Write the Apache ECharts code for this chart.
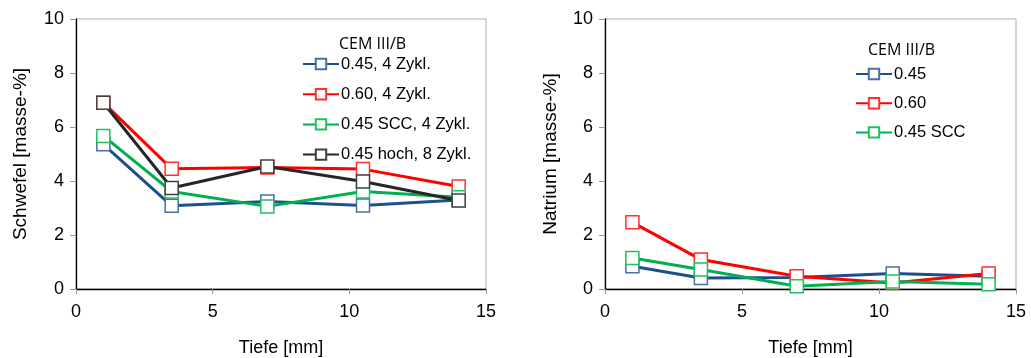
<!DOCTYPE html>
<html><head><meta charset="utf-8">
<script src="https://cdn.jsdelivr.net/npm/echarts@6/dist/echarts.min.js"></script>
<style>html,body{margin:0;padding:0;background:#fff}#c{width:1031px;height:358px}</style>
</head><body><div id="c"></div>
<script>
const depth = [1, 3.5, 7, 10.5, 14];
const xTicks = [0, 5, 10, 15];
const yTicks = [0, 2, 4, 6, 8, 10];

const sNames = ['0.45, 4 Zykl.', '0.60, 4 Zykl.', '0.45 SCC, 4 Zykl.', '0.45 hoch, 8 Zykl.'];
const s045 = [5.36, 3.08, 3.24, 3.09, 3.30];
const s060 = [6.90, 4.45, 4.50, 4.44, 3.80];
const s045scc = [5.67, 3.61, 3.06, 3.61, 3.40];
const s045hoch = [6.90, 3.74, 4.54, 3.98, 3.28];

const nNames = ['0.45', '0.60', '0.45 SCC'];
const n045 = [0.84, 0.41, 0.43, 0.57, 0.47];
const n060 = [2.47, 1.09, 0.47, 0.22, 0.57];
const n045scc = [1.15, 0.72, 0.10, 0.28, 0.18];

const colors = ['#1F4E8C', '#FF0000', '#00B050', '#262626'];
const markerBorders = ['#4A6FA5', '#FF3030', '#20C060', '#404040'];

const font = 'Arial, "Liberation Sans", sans-serif';

function mk(name, vals, ci, gi) {
  return {
    name: name, type: 'line', xAxisIndex: gi, yAxisIndex: gi,
    data: depth.map((d, i) => [d, vals[i]]),
    symbol: 'rect', symbolSize: 13,
    lineStyle: { color: colors[ci], width: 3 },
    itemStyle: { color: '#fff', borderColor: markerBorders[ci], borderWidth: 1.5 },
    color: colors[ci],
    emphasis: { disabled: true },
    z: 2 + ci
  };
}

function xAx(gi) {
  return {
    gridIndex: gi, type: 'value', min: 0, max: 15, interval: 5,
    name: 'Tiefe [mm]', nameLocation: 'middle', nameGap: 50,
    nameTextStyle: { fontFamily: font, fontSize: 18, color: '#000' },
    axisLine: { show: true, onZero: false, lineStyle: { color: '#000', width: 1.3 } },
    axisTick: { show: true, length: 5, lineStyle: { color: '#999' } },
    axisLabel: { fontFamily: font, fontSize: 18, color: '#000', margin: 14 },
    splitLine: { show: false }
  };
}
function yAx(gi, name, gap) {
  return {
    gridIndex: gi, type: 'value', min: 0, max: 10, interval: 2,
    name: name, nameLocation: 'middle', nameGap: gap, nameRotate: 90,
    nameTextStyle: { fontFamily: font, fontSize: 19, color: '#000' },
    axisLine: { show: true, lineStyle: { color: '#000', width: 1.3 } },
    axisTick: { show: true, length: 6, lineStyle: { color: '#999' } },
    axisLabel: { fontFamily: font, fontSize: 18, color: '#000', margin: 12 },
    splitLine: { show: false }
  };
}

const titleFont = { fontFamily: '"Open Sans", "Noto Sans", sans-serif', fontSize: 16, fontWeight: 'normal', color: '#000' };
const legText = { fontFamily: font, fontSize: 16.5, lineHeight: 18, color: '#000', padding: [0, 0, 0, -3] };

const chart = echarts.init(document.getElementById('c'), null, { renderer: 'canvas' });
chart.setOption({
  animation: false,
  backgroundColor: '#fff',
  title: [
    { text: 'CEM III/B', left: 334, top: 31, textStyle: titleFont },
    { text: 'CEM III/B', left: 863, top: 37, textStyle: titleFont }
  ],
  grid: [
    { left: 76, top: 19, width: 410, height: 270, show: true, borderColor: '#b0b0b0', borderWidth: 1,
      containLabel: false, outerBoundsMode: 'none' },
    { left: 605, top: 19, width: 411, height: 270, show: true, borderColor: '#b0b0b0', borderWidth: 1,
      containLabel: false, outerBoundsMode: 'none' }
  ],
  legend: [
    { data: sNames, orient: 'vertical', left: 297, top: 50, itemWidth: 36, itemHeight: 13, itemGap: 12.2,
      textStyle: legText, selectedMode: false },
    { data: nNames, orient: 'vertical', left: 850, top: 60, itemWidth: 36, itemHeight: 13, itemGap: 11.2,
      textStyle: legText, selectedMode: false }
  ],
  xAxis: [xAx(0), xAx(1)],
  yAxis: [yAx(0, 'Schwefel [masse-%]', 46), yAx(1, 'Natrium [masse-%]', 45)],
  series: [
    mk(sNames[0], s045, 0, 0),
    mk(sNames[1], s060, 1, 0),
    mk(sNames[2], s045scc, 2, 0),
    mk(sNames[3], s045hoch, 3, 0),
    mk(nNames[0], n045, 0, 1),
    mk(nNames[1], n060, 1, 1),
    mk(nNames[2], n045scc, 2, 1)
  ]
});
</script></body></html>
